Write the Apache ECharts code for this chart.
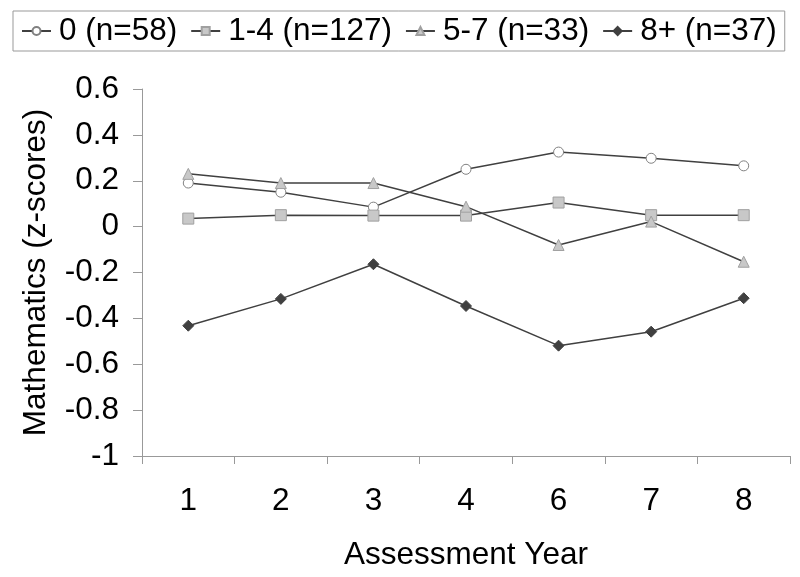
<!DOCTYPE html>
<html>
<head>
<meta charset="utf-8">
<script src="https://cdn.jsdelivr.net/npm/echarts@6/dist/echarts.min.js"></script>
<style>html,body{margin:0;padding:0;background:#fff}#c{width:800px;height:577px}</style>
</head>
<body>
<div id="c"></div>
<script>
var categories = ['1', '2', '3', '4', '6', '7', '8'];
var seriesNames = ['0 (n=58)', '1-4 (n=127)', '5-7 (n=33)', '8+ (n=37)'];
var s0 = [0.19, 0.15, 0.085, 0.25, 0.325, 0.298, 0.265];
var s14 = [0.035, 0.05, 0.048, 0.048, 0.105, 0.05, 0.05];
var s57 = [0.23, 0.19, 0.19, 0.087, -0.08, 0.022, -0.153];
var s8 = [-0.432, -0.315, -0.164, -0.346, -0.519, -0.458, -0.312];
var yTicks = [-1, -0.8, -0.6, -0.4, -0.2, 0, 0.2, 0.4, 0.6];

var FONT = 'Liberation Sans, Arial, sans-serif';
var FS = 31.5;
var chart = echarts.init(document.getElementById('c'), null, {renderer: 'canvas'});
var lineStyle = {color: '#404040', width: 1.5};
function mk(name, data, symbol, size, fill, border) {
  return {
    name: name, type: 'line', data: data, symbol: symbol, symbolSize: size,
    lineStyle: lineStyle,
    itemStyle: {color: fill, borderColor: border, borderWidth: 1},
    emphasis: {disabled: true}, animation: false
  };
}
chart.setOption({
  animation: false,
  textStyle: {fontFamily: FONT},
  legend: {
    left: 13, top: 11, padding: [4, 8, 4, 8],
    borderColor: '#999', borderWidth: 1,
    itemWidth: 29, itemHeight: 10, itemGap: 13,
    textStyle: {fontSize: FS, color: '#000', fontFamily: FONT, padding: [0, 0, 0, 3]},
    data: seriesNames
  },
  grid: {left: 142, right: 10, top: 89, bottom: 121, containLabel: false, outerBoundsMode: 'none'},
  xAxis: {
    type: 'category', data: categories, boundaryGap: true,
    name: 'Assessment Year', nameLocation: 'middle', nameGap: 83,
    nameTextStyle: {fontSize: FS, color: '#000', fontFamily: FONT},
    axisLine: {onZero: false, lineStyle: {color: '#999', width: 1}},
    axisTick: {show: true, length: 8, lineStyle: {color: '#999'}, alignWithLabel: false},
    axisLabel: {fontSize: FS, color: '#000', margin: 29, fontFamily: FONT},
    splitLine: {show: false}
  },
  yAxis: {
    type: 'value', min: -1, max: 0.6, interval: 0.2,
    name: 'Mathematics (z-scores)', nameLocation: 'middle', nameGap: 90,
    nameTextStyle: {fontSize: FS, color: '#000', fontFamily: FONT},
    axisLine: {show: true, lineStyle: {color: '#999', width: 1}},
    axisTick: {show: true, length: 9, lineStyle: {color: '#999'}},
    axisLabel: {fontSize: FS, color: '#000', margin: 23, fontFamily: FONT,
      formatter: function (v) { var r = Math.round(v * 10) / 10; return String(r); }},
    splitLine: {show: false}
  },
  series: [
    mk(seriesNames[0], s0, 'circle', 10, '#ffffff', '#808080'),
    mk(seriesNames[1], s14, 'rect', 11, '#c8c8c8', '#a0a0a0'),
    mk(seriesNames[2], s57, 'triangle', 11, '#c8c8c8', '#a0a0a0'),
    mk(seriesNames[3], s8, 'diamond', 11, '#404040', '#404040')
  ]
});
</script>
</body>
</html>
